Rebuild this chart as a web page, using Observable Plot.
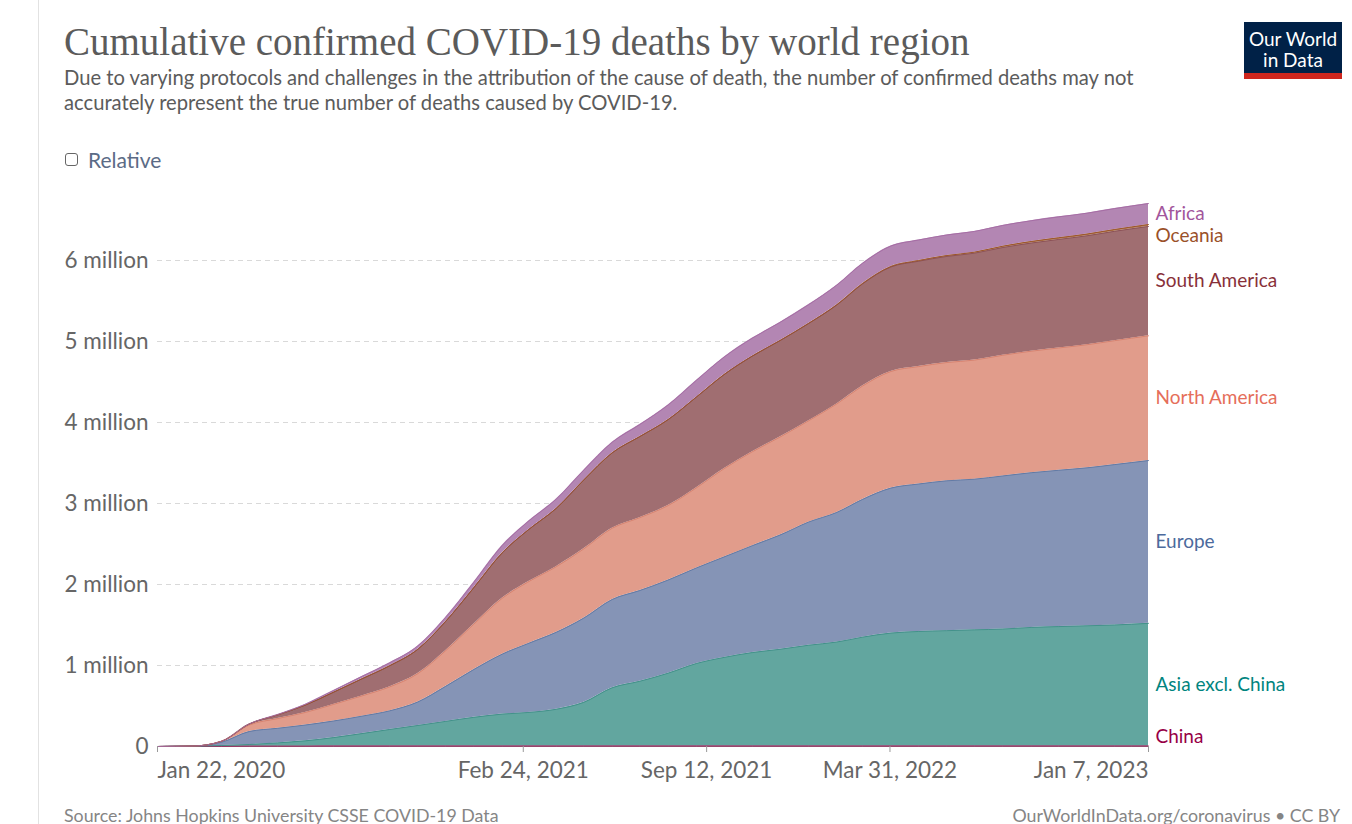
<!DOCTYPE html>
<html><head><meta charset="utf-8">
<script src="https://cdn.jsdelivr.net/npm/d3@7"></script>
<script src="https://cdn.jsdelivr.net/npm/@observablehq/plot@0.6"></script>
<style>
html,body{margin:0;padding:0;background:#fff;}
body{width:1352px;height:824px;position:relative;overflow:hidden;font-family:Lato,"Noto Sans",sans-serif;}
.vline{position:absolute;left:38px;top:0;width:1px;height:824px;background:#e2e2e2;}
#title{position:absolute;left:64px;top:21px;font-family:"Liberation Serif",serif;font-size:39px;color:#5b5b5b;white-space:nowrap;line-height:1.1;}
#subtitle{position:absolute;left:64px;top:65px;font-size:20.2px;line-height:25px;color:#5b5b5b;white-space:nowrap;}
#relative{position:absolute;left:64px;top:147px;font-size:21px;color:#5b6b86;display:flex;align-items:center;height:24px;}
#relative .box{width:11px;height:11px;border:1.6px solid #666;border-radius:3px;margin-right:10px;margin-left:1px;}
#logo{position:absolute;left:1244px;top:22px;width:98px;height:57px;background:#002147;}
#logo span{position:absolute;left:0;width:98px;text-align:center;color:#fff;font-size:19px;line-height:19px;}
#logo .red{position:absolute;left:0;bottom:0;width:98px;height:6px;background:#ce261e;}
#chart{position:absolute;left:0;top:190px;}
#src{position:absolute;left:64px;top:804px;font-size:17.8px;color:#858585;white-space:nowrap;}
#lic{position:absolute;right:12px;top:804px;font-size:17.8px;color:#858585;white-space:nowrap;}
</style>
</head>
<body>
<div class="vline"></div>
<div id="title">Cumulative confirmed COVID-19 deaths by world region</div>
<div id="subtitle">Due to varying protocols and challenges in the attribution of the cause of death, the number of confirmed deaths may not<br>accurately represent the true number of deaths caused by COVID-19.</div>
<div id="relative"><div class="box"></div>Relative</div>
<div id="logo"><span style="top:7px">Our World</span><span style="top:28px">in Data</span><div class="red"></div></div>
<div id="chart"></div>
<div id="src">Source: Johns Hopkins University CSSE COVID-19 Data</div>
<div id="lic">OurWorldInData.org/coronavirus • CC BY</div>
<script>
// ---- data (cumulative confirmed deaths, millions) ----
const dates = ["2020-01-22","2020-03-01","2020-04-01","2020-05-01","2020-06-01","2020-07-01","2020-08-01","2020-09-01","2020-10-01","2020-11-01","2020-12-01","2021-01-01","2021-02-01","2021-03-01","2021-04-01","2021-05-01","2021-06-01","2021-07-01","2021-08-01","2021-09-01","2021-10-01","2021-11-01","2021-12-01","2022-01-01","2022-02-01","2022-03-01","2022-04-01","2022-05-01","2022-06-01","2022-07-01","2022-08-01","2022-09-01","2022-10-01","2022-11-01","2022-12-01","2023-01-07"];
const regions = ["China","Asia excl. China","Europe","North America","South America","Oceania","Africa"];
const china = [0.00002,0.0029,0.0033,0.0046,0.0046,0.0046,0.0047,0.0047,0.0047,0.0047,0.0047,0.0048,0.0048,0.0048,0.0048,0.0049,0.0049,0.0049,0.0049,0.0049,0.0049,0.0049,0.0049,0.0049,0.0049,0.0049,0.0049,0.0050,0.0052,0.0052,0.0052,0.0052,0.0052,0.0052,0.0052,0.0052];
const asiaExclChina = [0,0.0003,0.009,0.02,0.04,0.065,0.105,0.155,0.205,0.255,0.305,0.355,0.395,0.415,0.455,0.54,0.72,0.80,0.90,1.02,1.095,1.155,1.195,1.245,1.285,1.345,1.395,1.415,1.425,1.435,1.445,1.465,1.475,1.485,1.495,1.515];
const europe = [0,0.002,0.04,0.16,0.18,0.195,0.205,0.215,0.23,0.29,0.43,0.59,0.74,0.85,0.95,1.04,1.09,1.12,1.15,1.18,1.24,1.32,1.41,1.52,1.60,1.70,1.79,1.82,1.85,1.86,1.89,1.91,1.93,1.95,1.98,2.01];
const northAmerica = [0,0.0001,0.012,0.08,0.12,0.155,0.205,0.25,0.295,0.35,0.44,0.56,0.69,0.76,0.81,0.855,0.88,0.90,0.92,0.99,1.09,1.16,1.21,1.25,1.34,1.40,1.44,1.45,1.46,1.47,1.49,1.50,1.51,1.52,1.53,1.54];
const southAmerica = [0,0,0.001,0.012,0.045,0.09,0.15,0.21,0.26,0.30,0.36,0.45,0.56,0.64,0.72,0.85,0.93,1.0,1.06,1.12,1.16,1.18,1.19,1.20,1.22,1.26,1.29,1.30,1.31,1.32,1.33,1.335,1.34,1.345,1.35,1.35];
const oceania = [0,0,0.00002,0.0001,0.0001,0.0001,0.0002,0.0007,0.0009,0.0009,0.0009,0.0010,0.0010,0.0010,0.0010,0.0011,0.0011,0.0011,0.0012,0.0014,0.0018,0.0022,0.0024,0.0026,0.0040,0.0055,0.0068,0.0090,0.0110,0.0125,0.0160,0.0190,0.0205,0.0213,0.0225,0.0240];
const africa = [0,0.00001,0.0002,0.0015,0.004,0.010,0.020,0.030,0.036,0.041,0.050,0.066,0.090,0.104,0.114,0.121,0.130,0.148,0.180,0.205,0.215,0.220,0.223,0.230,0.242,0.249,0.252,0.253,0.254,0.256,0.257,0.257,0.258,0.258,0.258,0.259];
const yTicks = [0,1,2,3,4,5,6];
const xTicks = ["2020-01-22","2021-02-24","2021-09-12","2022-03-31","2023-01-07"];

// ---- styles ----
const fillColors = ["#970046","#62a69f","#8594b6","#e19c8b","#a06e71","#b0794f","#b386b3"];
const lineColors = ["#970046","#3f8f88","#5f77a3","#d6806d","#8a4f55","#9a5129","#a46aa3"];
const labelColors = ["#970046","#00847e","#4c6a9c","#e56e5a","#883039","#9a5129","#a2559c"];

const series = [china, asiaExclChina, europe, northAmerica, southAmerica, oceania, africa];
const data = [];
dates.forEach((d, i) => regions.forEach((r, j) => data.push({date: new Date(d), region: r, value: series[j][i]})));
const lineColorOf = Object.fromEntries(regions.map((r, j) => [r, lineColors[j]]));
const last = data.filter(d => +d.date === +new Date(dates[dates.length - 1]));
const tickDates = xTicks.map(d => new Date(d));
const fmt = d3.utcFormat("%b %-d, %Y");
const labelStack = (names, dy) => Plot.text(last, Plot.stackY({
  x: "date", y: "value", z: "region", order: regions,
  text: d => names.includes(d.region) ? d.region : "",
  fill: {value: d => labelColors[regions.indexOf(d.region)], scale: null},
  textAnchor: "start", dx: 7, dy, fontSize: 19
}));

const chart = Plot.plot({
  width: 1352, height: 590,
  marginLeft: 157, marginRight: 204, marginTop: 13.3, marginBottom: 34,
  x: {type: "utc", domain: [new Date(dates[0]), new Date(dates[dates.length - 1])]},
  y: {domain: [0, 6.7]},
  color: {domain: regions, range: fillColors},
  style: {fontFamily: "Lato, 'Noto Sans', sans-serif", fontSize: "22.5px", color: "#666", background: "transparent", overflow: "visible"},
  marks: [
    Plot.ruleY(yTicks.filter(d => d > 0), {stroke: "#d9d9d9", strokeDasharray: "5,4", strokeWidth: 1}),
    Plot.areaY(data, {x: "date", y: "value", fill: "region", order: regions, curve: "monotone-x"}),
    Plot.ruleY([0], {stroke: "#999"}),
    Plot.lineY(data, Plot.stackY2({x: "date", y: "value", z: "region", order: regions, stroke: {value: d => lineColorOf[d.region], scale: null}, strokeWidth: 0.9, curve: "monotone-x"})),
    Plot.axisY({ticks: yTicks, tickSize: 0, tickPadding: 9, tickFormat: d => d === 0 ? "0" : `${d} million`, label: null, fontSize: 22.5}),
    Plot.axisX({ticks: tickDates, tickSize: 6, tickFormat: () => "", stroke: "#999", label: null}),
    Plot.axisX({ticks: tickDates.slice(0, 1), tickSize: 0, tickPadding: 16, textAnchor: "start", tickFormat: fmt, label: null, fontSize: 22.5}),
    Plot.axisX({ticks: tickDates.slice(1, -1), tickSize: 0, tickPadding: 16, tickFormat: fmt, label: null, fontSize: 22.5}),
    Plot.axisX({ticks: tickDates.slice(-1), tickSize: 0, tickPadding: 16, textAnchor: "end", tickFormat: fmt, label: null, fontSize: 22.5}),
    labelStack(["Asia excl. China","Europe","North America","South America","Africa"], 0),
    labelStack(["Oceania"], 10),
    labelStack(["China"], -9)
  ]
});
document.getElementById("chart").appendChild(chart);
</script>
</body></html>
